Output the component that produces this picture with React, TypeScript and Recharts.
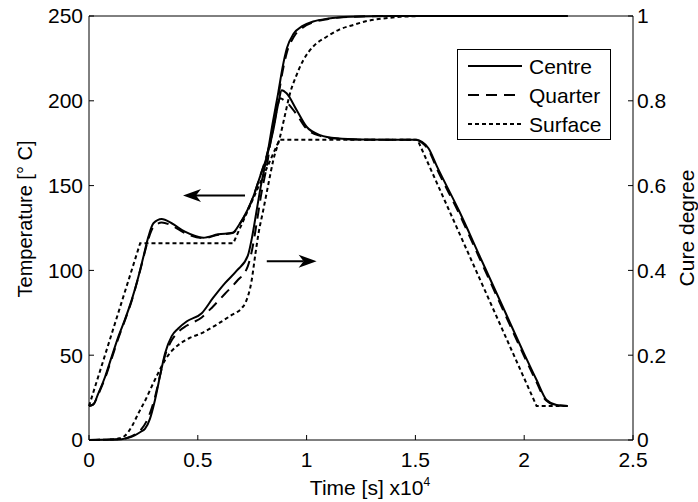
import React from "react"
import { LineChart, Line, XAxis, YAxis, ReferenceLine, Legend, Label } from "recharts"

// time in units of 1e4 s
const timeTicks = [0, 0.5, 1, 1.5, 2, 2.5]
const tempTicks = [0, 50, 100, 150, 200, 250]
const cureTicks = [0, 0.2, 0.4, 0.6, 0.8, 1]

// temperature [°C] at the three depths
const centreTemp: [number, number][] = [
  [0, 20], [0.02, 21], [0.043, 27.5], [0.074, 37.3], [0.104, 49], [0.135, 61], [0.165, 71],
  [0.196, 82.5], [0.227, 96.3], [0.25, 108], [0.273, 119.9], [0.296, 127.8], [0.334, 130.3],
  [0.38, 127.8], [0.441, 122.8], [0.525, 119.3], [0.594, 121.3], [0.66, 122.2], [0.694, 127.8],
  [0.755, 143.5], [0.786, 155.3], [0.817, 167], [0.847, 182.8], [0.87, 198.5], [0.886, 206.2],
  [0.908, 204.4], [0.954, 194.6], [1.0, 184.7], [1.062, 179.8], [1.138, 177.9], [1.25, 177.2],
  [1.5, 177], [1.53, 175.8], [1.56, 172], [1.6, 161], [1.7, 135.3], [1.797, 108], [1.9, 79],
  [2.0, 50.8], [2.057, 35.4], [2.103, 23.6], [2.149, 20.6], [2.2, 20],
]
const quarterTemp: [number, number][] = [
  [0, 20], [0.02, 21], [0.043, 27], [0.074, 36.5], [0.104, 48], [0.135, 60], [0.165, 70.5],
  [0.196, 82], [0.227, 96], [0.25, 107.5], [0.273, 118.5], [0.296, 125.5], [0.334, 128.2],
  [0.38, 126.5], [0.441, 122], [0.525, 119], [0.594, 121], [0.66, 122], [0.694, 127.5],
  [0.755, 143.5], [0.786, 155.5], [0.817, 168], [0.847, 184], [0.865, 196], [0.878, 201.5],
  [0.9, 200], [0.954, 192], [1.0, 183.5], [1.062, 179.3], [1.138, 177.7], [1.25, 177.1],
  [1.5, 177], [1.53, 175.3], [1.56, 171], [1.6, 159.6], [1.7, 133.8], [1.797, 106.5], [1.9, 77.5],
  [2.0, 49.4], [2.057, 34], [2.1, 23.4], [2.149, 20.5], [2.2, 20],
]
const surfaceTemp: [number, number][] = [
  [0, 20], [0.235, 116], [0.663, 116], [0.875, 177], [1.51, 177], [2.057, 20], [2.2, 20],
]

// degree of cure at the three depths
const centreCure: [number, number][] = [
  [0, 0], [0.1, 0.001], [0.15, 0.002], [0.18, 0.005], [0.21, 0.011], [0.24, 0.02], [0.257, 0.026],
  [0.28, 0.05], [0.303, 0.094], [0.33, 0.16], [0.35, 0.205], [0.38, 0.245], [0.41, 0.263],
  [0.45, 0.28], [0.518, 0.299], [0.57, 0.335], [0.625, 0.37], [0.68, 0.4], [0.73, 0.435],
  [0.75, 0.48], [0.77, 0.54], [0.79, 0.6], [0.82, 0.675], [0.845, 0.75], [0.87, 0.82],
  [0.89, 0.88], [0.91, 0.925], [0.94, 0.958], [0.98, 0.976], [1.03, 0.987], [1.1, 0.994],
  [1.2, 0.998], [1.4, 1], [2.2, 1],
]
const quarterCure: [number, number][] = [
  [0, 0], [0.1, 0.001], [0.15, 0.002], [0.18, 0.006], [0.21, 0.013], [0.24, 0.025], [0.27, 0.05],
  [0.3, 0.095], [0.33, 0.16], [0.35, 0.2], [0.38, 0.235], [0.41, 0.255], [0.45, 0.27],
  [0.518, 0.289], [0.57, 0.315], [0.625, 0.345], [0.68, 0.375], [0.73, 0.41], [0.75, 0.45],
  [0.77, 0.51], [0.79, 0.575], [0.82, 0.655], [0.845, 0.74], [0.87, 0.81], [0.89, 0.87],
  [0.91, 0.915], [0.94, 0.95], [0.98, 0.972], [1.03, 0.985], [1.1, 0.993], [1.2, 0.998],
  [1.4, 1], [2.2, 1],
]
const surfaceCure: [number, number][] = [
  [0, 0], [0.1, 0.001], [0.14, 0.004], [0.165, 0.01], [0.2, 0.035], [0.227, 0.063], [0.26, 0.095],
  [0.288, 0.126], [0.32, 0.16], [0.35, 0.189], [0.38, 0.21], [0.41, 0.224], [0.46, 0.24],
  [0.518, 0.252], [0.58, 0.27], [0.656, 0.295], [0.7, 0.31], [0.72, 0.325], [0.747, 0.375],
  [0.765, 0.44], [0.78, 0.49], [0.8, 0.54], [0.823, 0.6], [0.847, 0.66], [0.878, 0.715],
  [0.9, 0.765], [0.924, 0.818], [0.95, 0.856], [0.985, 0.896], [1.03, 0.928], [1.092, 0.951],
  [1.15, 0.968], [1.215, 0.979], [1.276, 0.988], [1.35, 0.994], [1.43, 0.998], [1.55, 1], [2.2, 1],
]

// annotation arrows: [time, temperature] of tail and tip
const tempArrow = { from: [0.717, 144.2], to: [0.432, 144.2] }
const cureArrow = { from: [0.817, 105.4], to: [1.046, 105.4] }

const FONT = "'Liberation Sans', Arial, Helvetica, sans-serif"
const dashes: Record<string, string | undefined> = {
  Centre: undefined,
  Quarter: "11 7",
  Surface: "4 3",
}

const toPoints = (rows: [number, number][]) => rows.map(([t, v]) => ({ t, v }))

const ArrowShape = (props: any) => {
  const { x1, y1, x2, y2 } = props
  const ang = Math.atan2(y2 - y1, x2 - x1)
  const cos = Math.cos(ang)
  const sin = Math.sin(ang)
  const len = 18
  const half = 6.5
  const notch = 13
  const bx = x2 - len * cos
  const by = y2 - len * sin
  const nx = x2 - notch * cos
  const ny = y2 - notch * sin
  const pts = [
    [x2, y2],
    [bx - half * sin, by + half * cos],
    [nx, ny],
    [bx + half * sin, by - half * cos],
  ]
    .map((p) => p.join(","))
    .join(" ")
  return (
    <g>
      <line x1={x1} y1={y1} x2={nx} y2={ny} stroke="#000" strokeWidth={2} />
      <polygon points={pts} fill="#000" />
    </g>
  )
}

const LegendBox = ({ payload }: any) => {
  const items = (payload || []).filter((p: any) => p.type !== "none")
  return (
    <svg width={154} height={92} style={{ display: "block" }}>
      <rect x={0.5} y={0.5} width={153} height={90} fill="#fff" stroke="#000" />
      {items.map((item: any, i: number) => {
        const y = 17 + i * 29
        return (
          <g key={item.value}>
            <line x1={11} x2={65} y1={y} y2={y} stroke="#000" strokeWidth={2} strokeDasharray={dashes[item.value]} />
            <text x={72} y={y} dominantBaseline="central" fontFamily={FONT} fontSize={21} fill="#000">
              {item.value}
            </text>
          </g>
        )
      })}
    </svg>
  )
}

const tickStyle = { fill: "#000", fontSize: 21, fontFamily: FONT }
const axisStroke = { stroke: "#000", strokeWidth: 1 }

export default function App() {
  const lineProps = {
    type: "monotone" as const,
    dataKey: "v",
    stroke: "#000",
    strokeWidth: 2,
    dot: false,
    activeDot: false,
    isAnimationActive: false,
  }

  return (
    <div style={{ position: "absolute", left: 0, top: 0, background: "#fff" }}>
      <LineChart width={698} height={502} margin={{ top: 0, right: 0, bottom: 0, left: 0 }} style={{ fontFamily: FONT }}>
        <XAxis
          dataKey="t"
          type="number"
          domain={[0, 2.5]}
          ticks={timeTicks}
          height={62}
          tickSize={-5}
          tickMargin={17}
          tick={tickStyle}
          axisLine={axisStroke}
          tickLine={axisStroke}
          tickFormatter={(v: number) => String(v)}
        >
          <Label
            content={({ viewBox }: any) => (
              <text x={viewBox.x + viewBox.width / 2 + 9} y={495} textAnchor="middle" fontFamily={FONT} fontSize={21} fill="#000">
                <tspan>Time [s] x10</tspan>
                <tspan dy={-9} fontSize={12}>4</tspan>
              </text>
            )}
          />
        </XAxis>
        <XAxis
          xAxisId="top"
          orientation="top"
          type="number"
          domain={[0, 2.5]}
          ticks={timeTicks}
          height={16}
          tickSize={-5}
          tickFormatter={() => ""}
          axisLine={axisStroke}
          tickLine={axisStroke}
        />
        <YAxis
          yAxisId="temp"
          orientation="left"
          width={89}
          domain={[0, 250]}
          ticks={tempTicks}
          tickSize={-5}
          tickMargin={11}
          tick={tickStyle}
          axisLine={axisStroke}
          tickLine={axisStroke}
        >
          <Label
            content={({ viewBox }: any) => {
              const cx = 25
              const cy = viewBox.y + viewBox.height / 2 - 9
              return (
                <text x={cx} y={cy} transform={`rotate(-90 ${cx} ${cy})`} textAnchor="middle" dominantBaseline="central" fontFamily={FONT} fontSize={20} fill="#000">
                  Temperature [° C]
                </text>
              )
            }}
          />
        </YAxis>
        <YAxis
          yAxisId="cure"
          orientation="right"
          width={65}
          domain={[0, 1]}
          ticks={cureTicks}
          tickSize={-5}
          tickMargin={9}
          tick={tickStyle}
          axisLine={axisStroke}
          tickLine={axisStroke}
          tickFormatter={(v: number) => String(v)}
        >
          <Label
            content={({ viewBox }: any) => {
              const cx = 686
              const cy = viewBox.y + viewBox.height / 2
              return (
                <text x={cx} y={cy} transform={`rotate(-90 ${cx} ${cy})`} textAnchor="middle" dominantBaseline="central" fontFamily={FONT} fontSize={21} fill="#000">
                  Cure degree
                </text>
              )
            }}
          />
        </YAxis>

        <Legend
          layout="vertical"
          align="center"
          verticalAlign="middle"
          wrapperStyle={{ left: 457, top: 49, width: 154, height: 92 }}
          content={<LegendBox />}
        />

        <Line {...lineProps} yAxisId="temp" data={toPoints(centreTemp)} name="Centre" />
        <Line {...lineProps} yAxisId="temp" data={toPoints(quarterTemp)} name="Quarter" strokeDasharray={dashes.Quarter} />
        <Line {...lineProps} type="linear" yAxisId="temp" data={toPoints(surfaceTemp)} name="Surface" strokeDasharray={dashes.Surface} />

        <Line {...lineProps} yAxisId="cure" data={toPoints(centreCure)} name="Centre cure" legendType="none" />
        <Line {...lineProps} yAxisId="cure" data={toPoints(quarterCure)} name="Quarter cure" legendType="none" strokeDasharray={dashes.Quarter} />
        <Line {...lineProps} yAxisId="cure" data={toPoints(surfaceCure)} name="Surface cure" legendType="none" strokeDasharray={dashes.Surface} />

        <ReferenceLine
          yAxisId="temp"
          segment={[{ x: tempArrow.from[0], y: tempArrow.from[1] }, { x: tempArrow.to[0], y: tempArrow.to[1] }]}
          shape={ArrowShape}
        />
        <ReferenceLine
          yAxisId="temp"
          segment={[{ x: cureArrow.from[0], y: cureArrow.from[1] }, { x: cureArrow.to[0], y: cureArrow.to[1] }]}
          shape={ArrowShape}
        />
      </LineChart>
    </div>
  )
}
